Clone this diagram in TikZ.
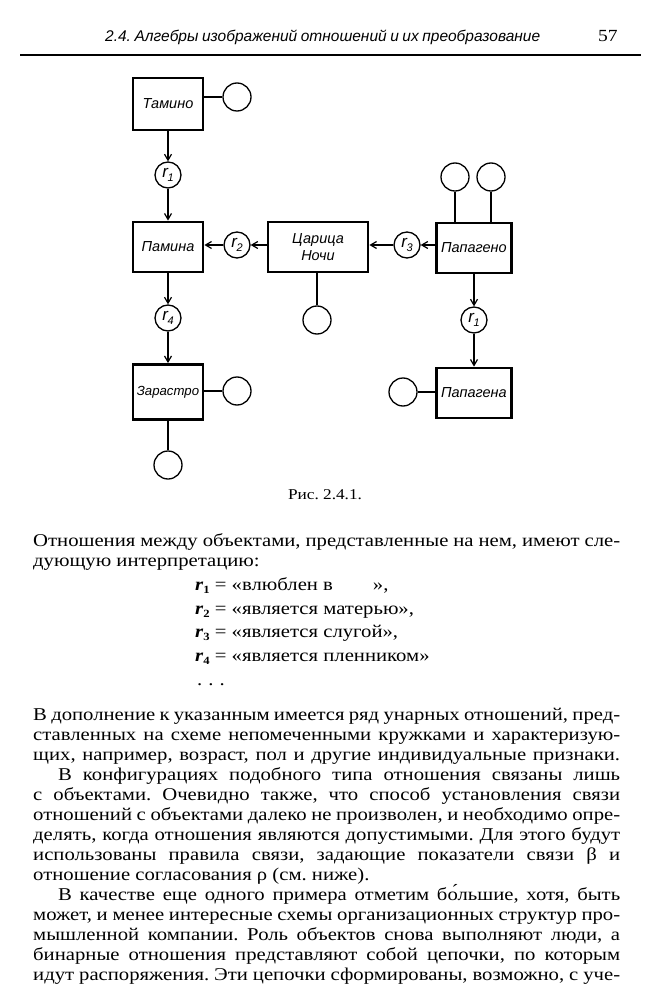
\documentclass[tikz,border=0pt]{standalone}
\usepackage{fontspec}
\setmainfont{Liberation Serif}[FakeStretch=1.15]
\newfontfamily\labfont{Liberation Sans}
\usetikzlibrary{arrows.meta}
\newcommand{\rr}[1]{r\kern-0.3pt\raisebox{-0.45ex}{\fontsize{11}{11}\selectfont #1}}
\newcommand{\fr}[1]{\textbf{\textit{r}}\raisebox{-0.45ex}{\fontsize{11}{11}\selectfont\textbf{#1}}}
\frenchspacing
\begin{document}
\begin{tikzpicture}[x=1pt,y=-1pt,
  obj/.style={draw,line width=2.8pt,minimum width=70pt,minimum height=50pt,inner sep=1pt,
    font=\labfont\itshape\fontsize{14.5}{17}\selectfont,align=center},
  rel/.style={circle,draw,line width=1.3pt,minimum size=26pt,inner sep=0pt,
    font=\labfont\itshape\fontsize{17}{17}\selectfont},
  un/.style={circle,draw,line width=1.3pt,minimum size=28pt,inner sep=0pt},
  con/.style={line width=1.2pt},
  arr/.style={con,-{Straight Barb[length=6pt,width=7pt,line width=1.2pt]}},
  ln/.style={anchor=base west,inner sep=0pt,font=\fontsize{18}{20}\selectfont},
]
\useasboundingbox (0,0) rectangle (647,1000);
% header
\node[anchor=base west,inner sep=0pt,font=\labfont\itshape\fontsize{15.5}{15.5}\selectfont] (hd) at (105,42)
  {\makebox[435pt][s]{2.4. Алгебры изображений отношений и их преобразование}};
\node[anchor=base west,inner sep=0pt,font=\fontsize{17}{17}\selectfont] (pg) at (598,42) {57};
\draw[line width=1.4pt] (20,55) coordinate (rl) -- (641,55) coordinate (rr);
% diagram
\node[obj,minimum height=52pt] (tam) at (168,104) {Тамино};
\node[un] (tamc) at (237,97) {};
\node[rel] (ra) at (168,175) {\rr1};
\node[obj] (pam) at (168,247) {Памина};
\node[rel] (rb) at (237,245) {\rr2};
\node[obj,minimum width=100pt] (caz) at (318,247) {Царица\\Ночи};
\node[rel] (rc) at (407,245) {\rr3};
\node[obj,minimum width=75pt] (pap) at (474,248) {Папагено};
\node[un] (pu1) at (455,177) {};
\node[un] (pu2) at (491,177) {};
\node[un] (cazc) at (317,320) {};
\node[rel] (rd) at (168,318) {\rr4};
\node[rel] (re) at (474,320) {\rr1};
\node[obj,minimum height=55pt,inner sep=0pt,font=\labfont\itshape\fontsize{13.2}{15}\selectfont] (zar) at (168,392) {Зарастро};
\node[un] (zarc) at (237,391) {};
\node[un] (zarb) at (168,465) {};
\node[obj,minimum width=75pt] (pgna) at (474,393) {Папагена};
\node[un] (pgc) at (403,392) {};
% connectors
\draw[con] (tamc.west) -- (tamc.west -| tam.east);
\draw[arr] (tam.south) -- (ra.north);
\draw[arr] (ra.south) -- (pam.north);
\draw[arr] (caz.west |- rb) -- (rb.east);
\draw[arr] (rb.west) -- (rb.west -| pam.east);
\draw[arr] (pap.west |- rc) -- (rc.east);
\draw[arr] (rc.west) -- (rc.west -| caz.east);
\draw[con] (pu1.south) -- (pu1.south |- pap.north);
\draw[con] (pu2.south) -- (pu2.south |- pap.north);
\draw[arr] (pap.south) -- (re.north);
\draw[arr] (re.south) -- (pgna.north);
\draw[con] (cazc.north) -- (cazc.north |- caz.south);
\draw[arr] (pam.south) -- (rd.north);
\draw[arr] (rd.south) -- (zar.north);
\draw[con] (zarc.west) -- (zarc.west -| zar.east);
\draw[con] (zarb.north) -- (zar.south);
\draw[con] (pgc.east) -- (pgc.east -| pgna.west);
\node[font=\fontsize{15}{15}\selectfont] (cap) at (325,495) {Рис. 2.4.1.};
% text
\node[ln] (t1) at (33,546) {\makebox[587pt][s]{Отношения между объектами, представленные на нем, имеют сле-}};
\node[ln] (t2) at (33,566) {дующую интерпретацию:};
\node[ln] (f1) at (195,590) {\fr1 = «влюблен в\hspace{40pt}»,};
\node[ln] (f2) at (195,614) {\fr2 = «является матерью»,};
\node[ln] (f3) at (195,637) {\fr3 = «является слугой»,};
\node[ln] (f4) at (195,661) {\fr4 = «является пленником»};
\node[ln] (f5) at (197,685) {.\,\,.\,\,.};
\node[ln] (p1) at (33,720) {\makebox[587pt][s]{В дополнение к указанным имеется ряд унарных отношений, пред-}};
\node[ln] (p2) at (33,740) {\makebox[587pt][s]{ставленных на схеме непомеченными кружками и характеризую-}};
\node[ln] (p3) at (33,760) {\makebox[587pt][s]{щих, например, возраст, пол и другие индивидуальные признаки.}};
\node[ln] (p4) at (58,780) {\makebox[562pt][s]{В конфигурациях подобного типа отношения связаны лишь}};
\node[ln] (p5) at (33,800) {\makebox[587pt][s]{с объектами. Очевидно также, что способ установления связи}};
\node[ln] (p6) at (33,820) {\makebox[587pt][s]{отношений с объектами далеко не произволен, и необходимо опре-}};
\node[ln] (p7) at (33,840) {\makebox[587pt][s]{делять, когда отношения являются допустимыми. Для этого будут}};
\node[ln] (p8) at (33,860) {\makebox[587pt][s]{использованы правила связи, задающие показатели связи β и}};
\node[ln] (p9) at (33,880) {отношение согласования ρ (см. ниже).};
\node[ln] (p10) at (58,900) {\makebox[562pt][s]{В качестве еще одного примера отметим бо́льшие, хотя, быть}};
\node[ln] (p11) at (33,920) {\makebox[587pt][s]{может, и менее интересные схемы организационных структур про-}};
\node[ln] (p12) at (33,940) {\makebox[587pt][s]{мышленной компании. Роль объектов снова выполняют люди, а}};
\node[ln] (p13) at (33,960) {\makebox[587pt][s]{бинарные отношения представляют собой цепочки, по которым}};
\node[ln] (p14) at (33,980) {\makebox[587pt][s]{идут распоряжения. Эти цепочки сформированы, возможно, с уче-}};
\end{tikzpicture}
\end{document}
